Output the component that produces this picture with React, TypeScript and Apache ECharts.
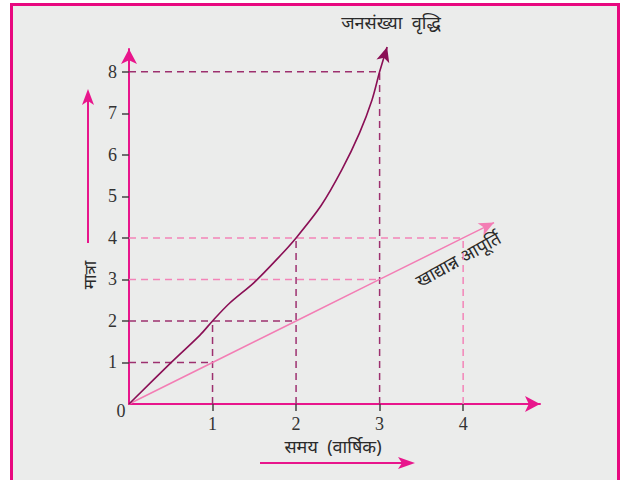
import React, { useEffect, useRef } from "react";
import * as echarts from "echarts";

const xTicks = [1, 2, 3, 4];
const yTicks = [1, 2, 3, 4, 5, 6, 7, 8];

// population growth curve
const popX = [0, 0.5, 0.85, 1, 1.2, 1.5, 1.8, 2, 2.3, 2.55, 2.76, 2.91, 3, 3.09];
const popY = [0, 0.99, 1.66, 2, 2.42, 2.93, 3.55, 4, 4.78, 5.65, 6.53, 7.33, 8, 8.6];

// food supply line
const foodX = [0, 1, 2, 3, 4, 4.37];
const foodY = [0, 1, 2, 3, 4, 4.37];

// dashed guide lines: [x, y] corner points
const darkHGuides = [[1, 1], [2, 2], [3, 8]];
const darkVGuides = [[1, 2], [2, 4], [3, 8]];
const pinkHGuides = [[3, 3], [4, 4]];
const pinkVGuides = [[4, 4]];

const TITLE_POP = "जनसंख्या  वृद्धि";
const TITLE_FOOD = "खाद्यान्न आपूर्ति";
const Y_NAME = "मात्रा";
const X_NAME = "समय  (वार्षिक)";

const AXIS_COLOR = "#e8168c";
const POP_COLOR = "#8a0f55";
const FOOD_COLOR = "#f37db4";
const DARK_DASH = "#9d306f";
const PINK_DASH = "#f384b8";
const TEXT_COLOR = "#333333";
const DEV_FONT = "Noto Sans, sans-serif";
const NUM_FONT = "Liberation Serif";

function guideSeries(list: number[][], horizontal: boolean, color: string) {
  return list.map((p) => ({
    type: "line",
    data: horizontal ? [[0, p[1]], [p[0], p[1]]] : [[p[0], 0], [p[0], p[1]]],
    symbol: "none",
    silent: true,
    z: 1,
    lineStyle: { color, width: 1.5, type: [7, 5] },
  }));
}

function arrowData(xs: number[], ys: number[], rot: number) {
  return xs.map((x, i) =>
    i === xs.length - 1
      ? { value: [x, ys[i]], symbol: "arrow", symbolSize: [10, 15], symbolRotate: rot }
      : { value: [x, ys[i]], symbol: "none" }
  );
}

export default function App() {
  const ref = useRef<HTMLDivElement>(null);
  useEffect(() => {
    if (!ref.current) return;
    const chart = echarts.init(ref.current, null, { renderer: "svg" });
    chart.setOption({
      animation: false,
      grid: { left: 129, top: 49, width: 411, height: 355 },
      xAxis: {
        type: "value",
        min: 0,
        max: 4.92,
        interval: 1,
        splitLine: { show: false },
        axisLine: {
          show: true,
          symbol: ["none", "arrow"],
          symbolSize: [12, 15],
          lineStyle: { color: AXIS_COLOR, width: 2 },
        },
        axisTick: { show: true, length: 7, customValues: xTicks, lineStyle: { color: "#444", width: 1.5 } },
        axisLabel: {
          customValues: xTicks,
          margin: 11,
          color: TEXT_COLOR,
          fontFamily: NUM_FONT,
          fontSize: 18,
          lineHeight: 18,
          formatter: (v: number) => (xTicks.includes(v) ? String(v) : ""),
        },
      },
      yAxis: {
        type: "value",
        min: 0,
        max: 8.55,
        interval: 1,
        splitLine: { show: false },
        axisLine: {
          show: true,
          symbol: ["none", "arrow"],
          symbolSize: [12, 15],
          lineStyle: { color: AXIS_COLOR, width: 2 },
        },
        axisTick: { show: true, length: 7, customValues: yTicks, lineStyle: { color: "#444", width: 1.5 } },
        axisLabel: {
          customValues: yTicks,
          margin: 12,
          color: TEXT_COLOR,
          fontFamily: NUM_FONT,
          fontSize: 18,
          formatter: (v: number) => (yTicks.includes(v) ? String(v) : ""),
        },
      },
      series: [
        ...guideSeries(darkHGuides, true, DARK_DASH),
        ...guideSeries(darkVGuides, false, DARK_DASH),
        ...guideSeries(pinkHGuides, true, PINK_DASH),
        ...guideSeries(pinkVGuides, false, PINK_DASH),
        {
          type: "line",
          data: arrowData(foodX, foodY, -63.6),
          showSymbol: true,
          clip: false,
          silent: true,
          z: 3,
          lineStyle: { color: FOOD_COLOR, width: 1.5 },
          itemStyle: { color: FOOD_COLOR },
        },
        {
          type: "line",
          data: arrowData(popX, popY, -16.5),
          smooth: 0.3,
          showSymbol: true,
          clip: false,
          silent: true,
          z: 4,
          lineStyle: { color: POP_COLOR, width: 1.6 },
          itemStyle: { color: POP_COLOR },
        },
      ],
      graphic: [
        { type: "text", x: 121, y: 411, style: { text: "0", font: `18px ${NUM_FONT}`, fill: TEXT_COLOR, align: "center", verticalAlign: "middle" } },
        { type: "text", x: 391, y: 22, style: { text: TITLE_POP, font: `18px ${DEV_FONT}`, fill: "#2a2a2a", align: "center", verticalAlign: "middle" } },
        { type: "text", x: 458, y: 259, rotation: 0.506, style: { text: TITLE_FOOD, font: `18px ${DEV_FONT}`, fill: "#2a2a2a", align: "center", verticalAlign: "middle" } },
        { type: "text", x: 89, y: 275, rotation: Math.PI / 2, style: { text: Y_NAME, font: `17px ${DEV_FONT}`, fill: "#2a2a2a", align: "center", verticalAlign: "middle" } },
        { type: "text", x: 333, y: 446, style: { text: X_NAME, font: `18px ${DEV_FONT}`, lineHeight: 20, fill: "#2a2a2a", align: "center", verticalAlign: "middle" } },
        { type: "line", shape: { x1: 88, y1: 243, x2: 88, y2: 100 }, style: { stroke: AXIS_COLOR, lineWidth: 2 } },
        { type: "polygon", shape: { points: [[88, 89], [82, 105], [88, 101], [94, 105]] }, style: { fill: AXIS_COLOR } },
        { type: "line", shape: { x1: 260, y1: 463, x2: 403, y2: 463 }, style: { stroke: AXIS_COLOR, lineWidth: 2 } },
        { type: "polygon", shape: { points: [[415, 463], [398, 457], [402, 463], [398, 469]] }, style: { fill: AXIS_COLOR } },
      ],
    });
    return () => chart.dispose();
  }, []);
  return (
    <div style={{ position: "fixed", left: 0, top: 0, width: 625, height: 480, background: "#ffffff", overflow: "hidden" }}>
      <div
        style={{
          position: "absolute",
          left: 10,
          top: 3,
          width: 610,
          height: 500,
          boxSizing: "border-box",
          border: "3px solid #e8087f",
          background: "#ebeceb",
        }}
      />
      <div ref={ref} style={{ position: "absolute", left: 0, top: 0, width: 625, height: 480 }} />
    </div>
  );
}
